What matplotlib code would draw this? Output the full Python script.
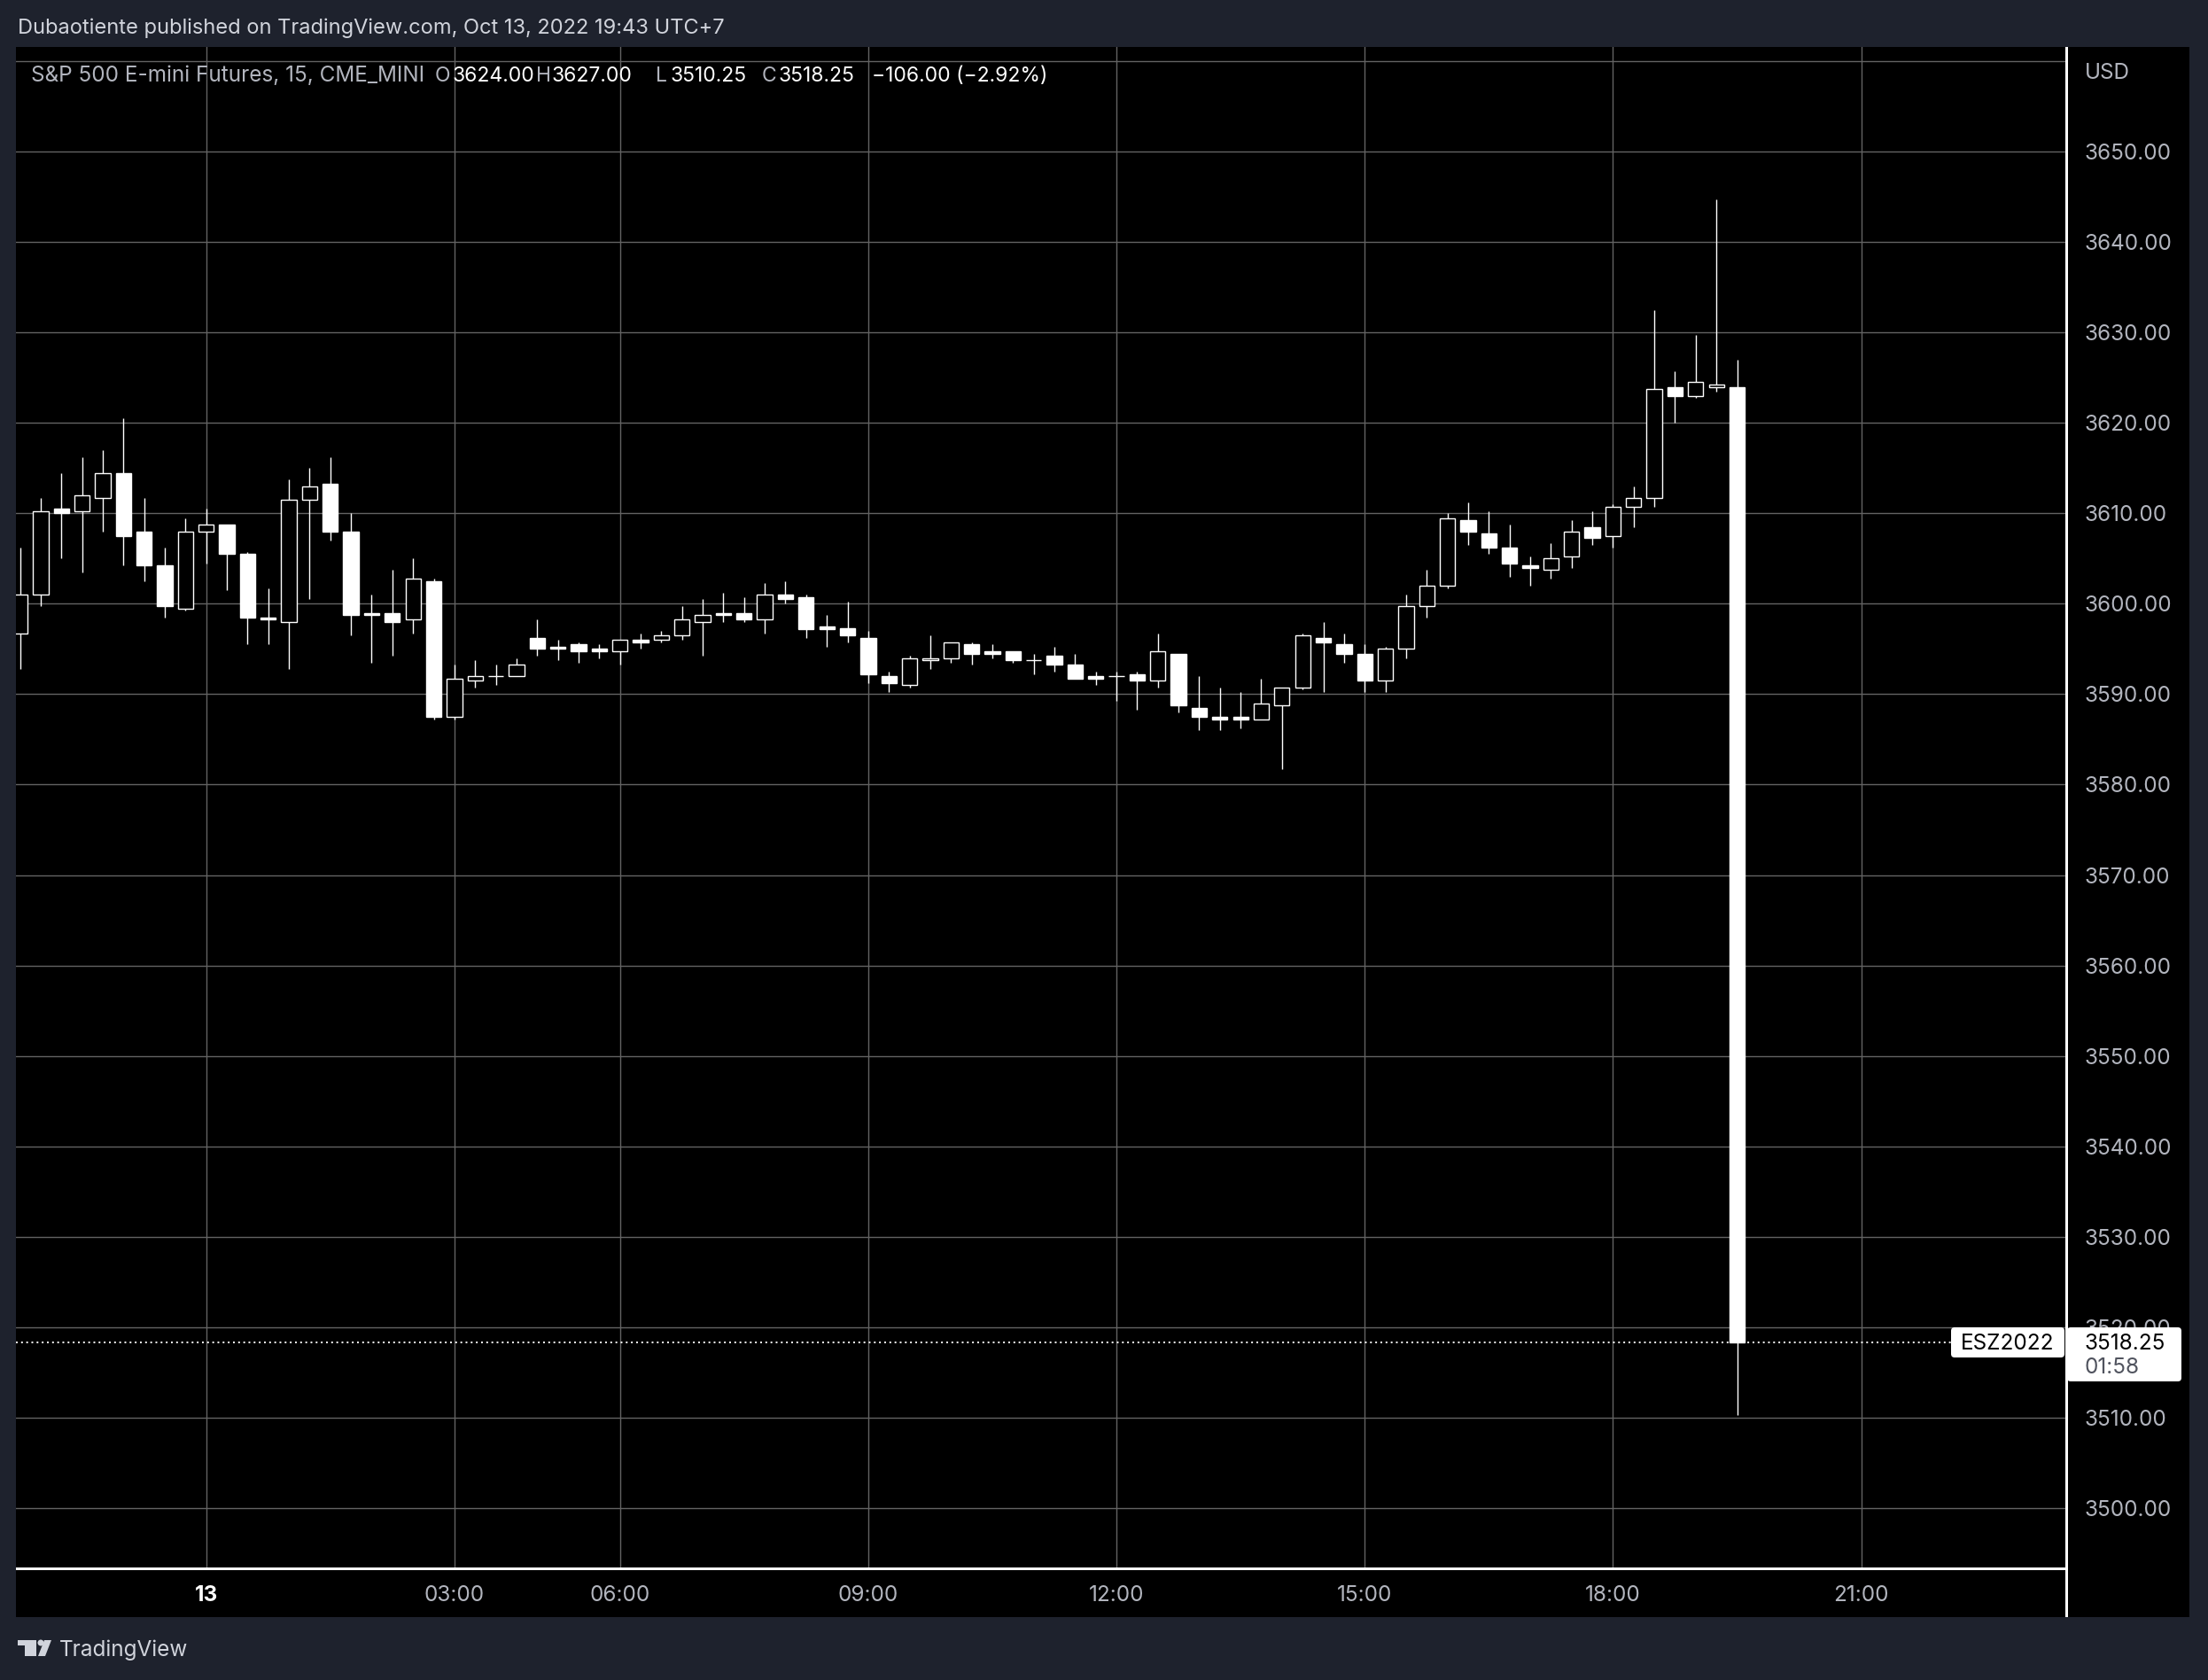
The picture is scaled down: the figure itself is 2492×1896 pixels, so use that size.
import matplotlib
matplotlib.use("Agg")
from matplotlib import pyplot as plt
from matplotlib.patches import Rectangle, FancyBboxPatch, Circle, Polygon
from matplotlib.transforms import IdentityTransform
import numpy as np

# 15 minute bars, ESZ2022, Oct 12 21:45 -> Oct 13 19:30 (UTC+7)
times = ["21:45", "22:00", "22:15", "22:30", "22:45", "23:00", "23:15", "23:30", "23:45",
         "00:00", "00:15", "00:30", "00:45", "01:00", "01:15", "01:30", "01:45",
         "02:00", "02:15", "02:30", "02:45", "03:00", "03:15", "03:30", "03:45",
         "05:00", "05:15", "05:30", "05:45", "06:00", "06:15", "06:30", "06:45",
         "07:00", "07:15", "07:30", "07:45", "08:00", "08:15", "08:30", "08:45",
         "09:00", "09:15", "09:30", "09:45", "10:00", "10:15", "10:30", "10:45",
         "11:00", "11:15", "11:30", "11:45", "12:00", "12:15", "12:30", "12:45",
         "13:00", "13:15", "13:30", "13:45", "14:00", "14:15", "14:30", "14:45",
         "15:00", "15:15", "15:30", "15:45", "16:00", "16:15", "16:30", "16:45",
         "17:00", "17:15", "17:30", "17:45", "18:00", "18:15", "18:30", "18:45",
         "19:00", "19:15", "19:30"]
opens = [3596.75, 3601.0, 3610.5, 3610.25, 3611.75, 3614.5, 3608.0, 3604.25, 3599.5,
         3608.0, 3608.75, 3605.5, 3598.5, 3598.0, 3611.5, 3613.25, 3608.0,
         3599.0, 3599.0, 3598.25, 3602.5, 3587.5, 3591.5, 3592.0, 3592.0,
         3596.25, 3595.25, 3595.5, 3595.0, 3594.75, 3596.0, 3596.0, 3596.5,
         3598.0, 3599.0, 3599.0, 3598.25, 3601.0, 3600.75, 3597.5, 3597.25,
         3596.25, 3592.0, 3591.0, 3593.75, 3594.0, 3595.5, 3594.75, 3594.75,
         3593.75, 3594.25, 3593.25, 3592.0, 3592.0, 3592.25, 3591.5, 3594.5,
         3588.5, 3587.5, 3587.5, 3587.25, 3588.75, 3590.75, 3596.25, 3595.5,
         3594.5, 3591.5, 3595.0, 3599.75, 3602.0, 3609.25, 3607.75, 3606.25,
         3604.25, 3603.75, 3605.25, 3608.5, 3607.5, 3610.75, 3611.75, 3624.0,
         3623.0, 3624.0, 3624.0]
highs = [3606.25, 3611.75, 3614.5, 3616.25, 3617.0, 3620.5, 3611.75, 3606.25, 3609.5,
         3610.5, 3608.75, 3605.75, 3601.75, 3613.75, 3615.0, 3616.25, 3610.0,
         3601.0, 3603.75, 3605.0, 3602.75, 3593.25, 3593.75, 3593.25, 3594.0,
         3598.25, 3596.0, 3595.75, 3595.5, 3596.0, 3596.75, 3597.0, 3599.75,
         3600.5, 3601.25, 3600.75, 3602.25, 3602.5, 3601.0, 3598.75, 3600.25,
         3597.0, 3592.5, 3594.25, 3596.5, 3595.75, 3595.75, 3595.5, 3594.75,
         3594.5, 3595.25, 3594.5, 3592.5, 3592.5, 3592.5, 3596.75, 3594.5,
         3592.0, 3590.75, 3590.25, 3591.75, 3590.75, 3596.75, 3598.0, 3596.75,
         3595.5, 3595.25, 3601.0, 3603.75, 3610.0, 3611.25, 3610.25, 3608.75,
         3605.25, 3606.75, 3609.25, 3610.25, 3611.0, 3613.0, 3632.5, 3625.75,
         3629.75, 3644.75, 3627.0]
lows = [3592.75, 3599.75, 3605.0, 3603.5, 3608.0, 3604.25, 3602.5, 3598.5, 3599.25,
        3604.5, 3601.5, 3595.5, 3595.5, 3592.75, 3600.5, 3607.0, 3596.5,
        3593.5, 3594.25, 3596.75, 3587.25, 3587.25, 3590.75, 3591.0, 3592.0,
        3594.25, 3593.75, 3593.5, 3594.0, 3593.25, 3595.0, 3595.75, 3596.0,
        3594.25, 3598.0, 3598.0, 3596.75, 3600.0, 3596.25, 3595.25, 3595.75,
        3591.25, 3590.25, 3590.75, 3592.75, 3593.5, 3593.25, 3594.0, 3593.5,
        3592.25, 3592.5, 3591.75, 3591.0, 3589.25, 3588.25, 3590.75, 3588.0,
        3586.0, 3586.0, 3586.25, 3587.25, 3581.75, 3590.5, 3590.25, 3593.5,
        3590.25, 3590.25, 3594.0, 3598.5, 3601.75, 3606.5, 3605.5, 3603.0,
        3602.0, 3602.75, 3604.0, 3606.5, 3606.25, 3608.5, 3610.75, 3620.0,
        3622.75, 3623.5, 3510.25]
closes = [3601.0, 3610.25, 3610.0, 3612.0, 3614.5, 3607.5, 3604.25, 3599.75, 3608.0,
          3608.75, 3605.5, 3598.5, 3598.25, 3611.5, 3613.0, 3608.0, 3598.75,
          3598.75, 3598.0, 3602.75, 3587.5, 3591.75, 3592.0, 3592.0, 3593.25,
          3595.0, 3595.0, 3594.75, 3594.75, 3596.0, 3595.75, 3596.5, 3598.25,
          3598.75, 3598.75, 3598.25, 3601.0, 3600.5, 3597.25, 3597.25, 3596.5,
          3592.25, 3591.25, 3594.0, 3594.0, 3595.75, 3594.5, 3594.5, 3593.75,
          3593.75, 3593.25, 3591.75, 3591.75, 3592.0, 3591.5, 3594.75, 3588.75,
          3587.5, 3587.25, 3587.25, 3589.0, 3590.75, 3596.5, 3595.75, 3594.5,
          3591.5, 3595.0, 3599.75, 3602.0, 3609.5, 3608.0, 3606.25, 3604.5,
          3604.0, 3605.0, 3608.0, 3607.25, 3610.75, 3611.75, 3623.75, 3623.0,
          3624.5, 3624.25, 3518.25]

tick_times = ["00:00", "03:00", "06:00", "09:00", "12:00", "15:00", "18:00", "21:00"]
tick_labels = ["13", "03:00", "06:00", "09:00", "12:00", "15:00", "18:00", "21:00"]
price_ticks = list(range(3500, 3661, 10))

W, H = 2492, 1896
BG = "#1e222d"
TXT = "#b2b5be"
GRID = "#636363"

plt.rcParams["font.family"] = ["Inter", "DejaVu Sans"]
FS = 17.5

fig = plt.figure(figsize=(W / 100, H / 100), dpi=100, facecolor=BG)


def px_rect(x0, y0, x1, y1, **kw):
    # rectangle given in pixels from top-left of the picture
    return Rectangle((x0, H - y1), x1 - x0, y1 - y0,
                     transform=IdentityTransform(), **kw)


def px_text(x, y, s, **kw):
    fig.text(x / W, 1 - y / H, s, **kw)


# black chart panel (plot + both scales)
fig.patches.append(px_rect(18, 53, 2471, 1825, facecolor="black", edgecolor="none", zorder=-5))

ax = fig.add_axes([18 / W, 1 - 1770 / H, (2332 - 18) / W, (1770 - 53) / H])
ax.set_facecolor("black")

o = np.array(opens)
h = np.array(highs)
l = np.array(lows)
c = np.array(closes)
x = np.arange(len(times))
up = c >= o

ax.vlines(x, l, h, color="white", lw=1.0, zorder=2)
ax.bar(x, np.abs(c - o), bottom=np.minimum(o, c), width=0.74,
       color=np.where(up, "black", "white"), edgecolor="white", linewidth=1.0, zorder=3)

# time ticks (21:00 lies after the last bar)
last_min = int(times[-1][:2]) * 60 + int(times[-1][3:])
xt = []
for t in tick_times:
    if t in times:
        xt.append(times.index(t))
    else:
        m = int(t[:2]) * 60 + int(t[3:])
        xt.append(len(times) - 1 + (m - last_min) // 15)

mid = times.index("00:00")
ax.set_xlim(mid - 9.195, mid + 89.91)
ax.set_ylim(3493.3, 3661.6)

ax.set_xticks(xt)
ax.set_xticklabels(tick_labels)
ax.set_yticks(price_ticks)
ax.set_yticklabels([f"{v:.2f}" if v < 3660 else "" for v in price_ticks])
ax.yaxis.tick_right()
ax.tick_params(axis="both", length=0, labelsize=FS, labelcolor=TXT)
ax.tick_params(axis="y", pad=15)
ax.tick_params(axis="x", pad=14)
ax.get_xticklabels()[0].set_color("white")
ax.get_xticklabels()[0].set_fontweight("bold")
ax.grid(True, color=GRID, lw=1.0, zorder=0)
ax.set_axisbelow(True)
for s in ax.spines.values():
    s.set_visible(False)

# last price dotted line
ax.axhline(closes[-1], xmin=0, xmax=(2202 - 18) / (2332 - 18), color="white",
           lw=1.4, ls=(0, (1, 2)), zorder=4)

# white scale borders
fig.patches.append(px_rect(2331, 53, 2334, 1825, facecolor="white", edgecolor="none", zorder=3))
fig.patches.append(px_rect(18, 1769, 2332, 1772, facecolor="white", edgecolor="none", zorder=3))

# labels on the price scale
fig.patches.append(FancyBboxPatch((2202, H - 1532), 128, 34, boxstyle="round,pad=0,rounding_size=4",
                                  transform=IdentityTransform(), facecolor="white", edgecolor="none", zorder=5))
fig.patches.append(FancyBboxPatch((2333, H - 1559), 129, 61, boxstyle="round,pad=0,rounding_size=4",
                                  transform=IdentityTransform(), facecolor="white", edgecolor="none", zorder=5))
px_text(2266, 1523, "ESZ2022", color="black", fontsize=FS, ha="center", va="baseline", zorder=6)
px_text(2353, 1523, f"{closes[-1]:.2f}", color="black", fontsize=FS, va="baseline", zorder=6)
px_text(2353, 1550, "01:58", color="#50535e", fontsize=FS, va="baseline", zorder=6)
px_text(2353, 89, "USD", color=TXT, fontsize=FS, va="baseline")

# title and legend line
px_text(20, 38, "Dubaotiente published on TradingView.com, Oct 13, 2022 19:43 UTC+7",
        color="#d1d4dc", fontsize=17, va="baseline")
chg = closes[-1] - closes[-2]
pct = chg / closes[-2] * 100
px_text(35, 92, "S&P 500 E-mini Futures, 15, CME_MINI", color=TXT, fontsize=FS, va="baseline")
head = [(491, "O", TXT), (510, f"{opens[-1]:.2f}", "white"),
        (605, "H", TXT), (623, f"{highs[-1]:.2f}", "white"),
        (740, "L", TXT), (756, f"{lows[-1]:.2f}", "white"),
        (860, "C", TXT), (878, f"{closes[-1]:.2f}", "white"),
        (984, f"{chg:.2f} ({pct:.2f}%)".replace("-", "\u2212"), "white")]
for hx, s, col in head:
    px_text(hx, 92, s, color=col, fontsize=16.5, va="baseline")

# TradingView mark
logo = "#d1d4dc"
fig.patches.append(px_rect(20, 1851, 41, 1857, facecolor=logo, edgecolor="none"))
fig.patches.append(px_rect(28, 1851, 41, 1869, facecolor=logo, edgecolor="none"))
fig.patches.append(Circle((46, H - 1854), 3.5, transform=IdentityTransform(), facecolor=logo, edgecolor="none"))
fig.patches.append(Polygon([(50, H - 1851), (58, H - 1851), (51, H - 1869), (43, H - 1869)],
                           closed=True, transform=IdentityTransform(), facecolor=logo, edgecolor="none"))
px_text(67, 1869, "TradingView", color=logo, fontsize=FS, va="baseline")

fig.savefig("out.png", dpi=100, facecolor=BG)
